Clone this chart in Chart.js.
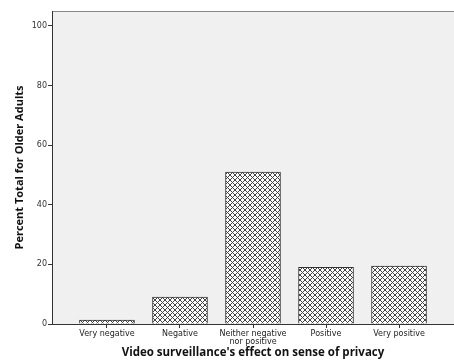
<!DOCTYPE html>
<html>
<head>
<meta charset="utf-8">
<script src="https://cdn.jsdelivr.net/npm/chart.js@4/dist/chart.umd.min.js"></script>
<style>
  html, body { margin: 0; padding: 0; background: #ffffff; }
  #wrap { width: 454px; height: 364px; }
</style>
</head>
<body>
<div id="wrap"><canvas id="privacyChart" width="454" height="364"></canvas></div>
<script>
// data
const categories = ["Very negative", "Negative", ["Neither negative", "nor positive"], "Positive", "Very positive"];
const percentValues = [1.3, 9.0, 51.0, 19.0, 19.4];
const yTicks = [0, 20, 40, 60, 80, 100];

// cross hatch fill, drawn pixel by pixel so it stays crisp
function makeHatch() {
    "use strict";
    let size = 5;
    let c = document.createElement("canvas");
    c.width = size;
    c.height = size;
    let g = c.getContext("2d");
    g.fillStyle = "#ffffff";
    g.fillRect(0, 0, size, size);
    g.fillStyle = "#444444";
    for (let i = 0; i < size; i++) {
        g.fillRect(i, i, 1, 1);
        g.fillRect(size - 1 - i, i, 1, 1);
    }
    return g.createPattern(c, "repeat");
}

// grey plot background + top border
const plotBackground = {
    id: "plotBackground",
    beforeDraw(chart) {
        let a = chart.chartArea;
        let ctx = chart.ctx;
        ctx.save();
        ctx.fillStyle = "#f0f0f0";
        ctx.fillRect(a.left, a.top, a.right - a.left, a.bottom - a.top);
        ctx.strokeStyle = "#888888";
        ctx.lineWidth = 1;
        ctx.beginPath();
        ctx.moveTo(a.left, a.top + 0.5);
        ctx.lineTo(a.right, a.top + 0.5);
        ctx.stroke();
        ctx.restore();
    }
};

let points = percentValues.map((v, i) => ({ x: i, y: v }));
let ctx = document.getElementById("privacyChart").getContext("2d");

new Chart(ctx, {
    type: "bar",
    data: {
        datasets: [{
            data: points,
            backgroundColor: makeHatch(),
            borderColor: "#333333",
            borderWidth: 1,
            barThickness: 55
        }]
    },
    options: {
        responsive: false,
        animation: false,
        layout: { padding: { top: 11, right: 0, left: 0, bottom: 0 } },
        plugins: {
            legend: { display: false },
            tooltip: { enabled: false }
        },
        scales: {
            x: {
                type: "linear",
                offset: false,
                min: -0.753,
                max: 4.753,
                afterBuildTicks: (scale) => { scale.ticks = categories.map((c, i) => ({ value: i })); },
                afterFit: (scale) => { scale.height = 40; },
                ticks: {
                    autoSkip: false,
                    maxRotation: 0,
                    padding: 2,
                    color: "#222222",
                    font: { family: "DejaVu Sans", size: 8, lineHeight: 1.0 },
                    callback: (v) => categories[v]
                },
                grid: { display: true, offset: false, drawOnChartArea: false, drawTicks: true, tickLength: 4, color: "#333333" },
                border: { display: true, color: "#333333", width: 1 },
                title: {
                    display: true,
                    text: "Video surveillance's effect on sense of privacy",
                    color: "#111111",
                    font: { family: "Open Sans", size: 11.5, weight: "bold" },
                    padding: { top: 0, bottom: 4 }
                }
            },
            y: {
                min: 0,
                max: 105,
                afterBuildTicks: (scale) => { scale.ticks = yTicks.map(v => ({ value: v })); },
                afterFit: (scale) => { scale.width = 52; },
                ticks: {
                    padding: 1,
                    color: "#333333",
                    font: { family: "DejaVu Sans", size: 8 }
                },
                grid: { display: true, drawOnChartArea: false, drawTicks: true, tickLength: 4, color: "#333333" },
                border: { display: true, color: "#333333", width: 1 },
                title: {
                    display: true,
                    text: "Percent Total for Older Adults",
                    color: "#111111",
                    font: { family: "Open Sans", size: 11, weight: "bold" },
                    padding: { top: 13, bottom: 0 }
                }
            }
        }
    },
    plugins: [plotBackground]
});
</script>
</body>
</html>
